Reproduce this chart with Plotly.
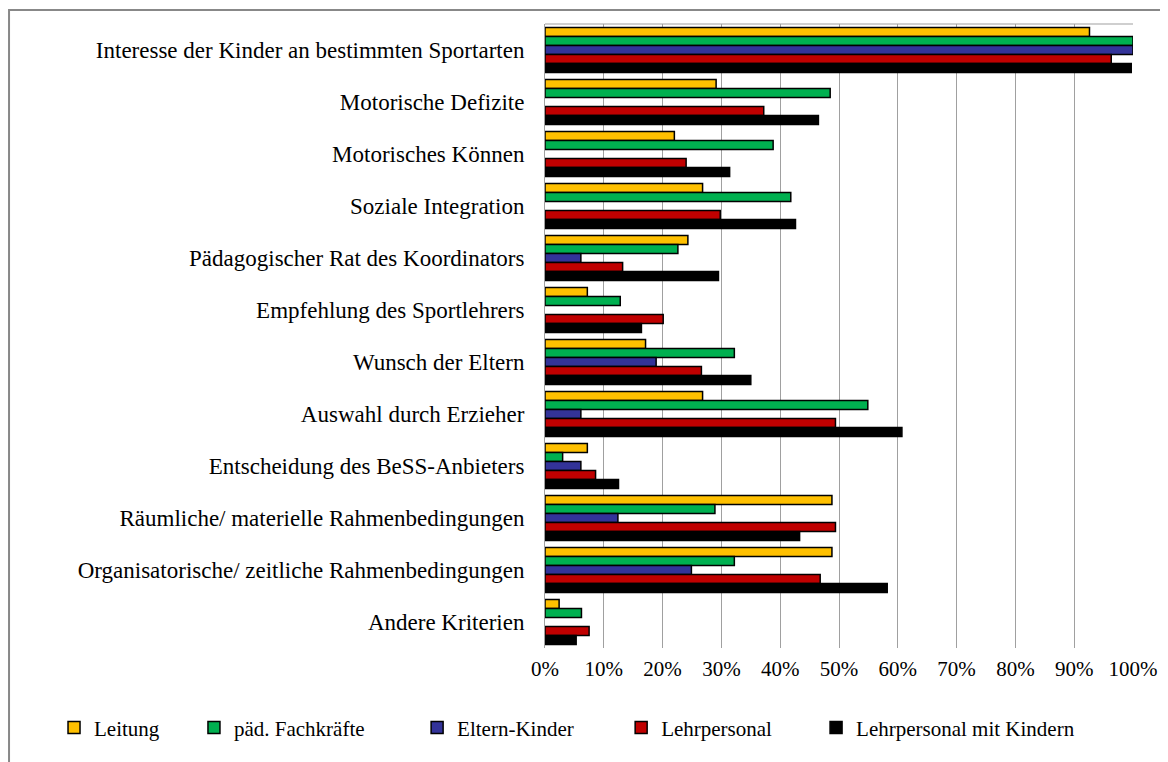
import plotly.graph_objects as go

categories = [
    "Interesse der Kinder an bestimmten Sportarten",
    "Motorische Defizite",
    "Motorisches Können",
    "Soziale Integration",
    "Pädagogischer Rat des Koordinators",
    "Empfehlung des Sportlehrers",
    "Wunsch der Eltern",
    "Auswahl durch Erzieher",
    "Entscheidung des BeSS-Anbieters",
    "Räumliche/ materielle Rahmenbedingungen",
    "Organisatorische/ zeitliche Rahmenbedingungen",
    "Andere Kriterien",
]

leitung = [92.6, 29.1, 22.0, 26.8, 24.3, 7.2, 17.1, 26.8, 7.2, 48.8, 48.8, 2.4]
paed_fachkraefte = [100.0, 48.5, 38.8, 41.8, 22.6, 12.8, 32.2, 54.9, 3.0, 28.9, 32.2, 6.2]
eltern_kinder = [100.0, None, None, None, 6.1, None, 18.9, 6.1, 6.1, 12.4, 24.9, None]
lehrpersonal = [96.3, 37.2, 24.0, 29.8, 13.2, 20.1, 26.6, 49.4, 8.6, 49.4, 46.8, 7.5]
lehrpersonal_kinder = [99.7, 46.5, 31.4, 42.6, 29.5, 16.4, 35.0, 60.7, 12.5, 43.3, 58.2, 5.3]

series_names = ["Leitung", "päd. Fachkräfte", "Eltern-Kinder", "Lehrpersonal", "Lehrpersonal mit Kindern"]
series_values = [leitung, paed_fachkraefte, eltern_kinder, lehrpersonal, lehrpersonal_kinder]
series_colors = ["#FFC000", "#00B050", "#333399", "#C00000", "#000000"]

x_tick_values = list(range(0, 101, 10))
x_tick_labels = ["0%", "10%", "20%", "30%", "40%", "50%", "60%", "70%", "80%", "90%", "100%"]

FONT = "Liberation Serif"

# one legend per series so that entries sit where the reference puts them
legend_ids = ["legend", "legend2", "legend3", "legend4", "legend5"]
legend_x = [-0.835, -0.597, -0.2175, 0.1295, 0.461]

fig = go.Figure()
for name, vals, col, lid in zip(series_names, series_values, series_colors, legend_ids):
    fig.add_trace(go.Bar(
        y=categories, x=vals, name=name, orientation="h", legend=lid,
        marker=dict(color=col, line=dict(color="#000000", width=1.5)),
    ))

legend_layout = {}
for lid, lx in zip(legend_ids, legend_x):
    legend_layout[lid] = dict(
        orientation="h", xref="paper", yref="paper",
        x=lx, y=-0.128, xanchor="left", yanchor="middle",
        font=dict(family=FONT, size=21, color="#000000"),
        itemwidth=30, bgcolor="rgba(0,0,0,0)",
    )

fig.update_layout(
    width=1160, height=754,
    paper_bgcolor="white", plot_bgcolor="white",
    barmode="group", bargap=0.13, bargroupgap=0,
    margin=dict(l=537, r=35, t=16, b=114, autoexpand=False),
    font=dict(family=FONT, color="#000000", size=20),
    showlegend=True,
    xaxis=dict(
        range=[0, 100], tickmode="array", tickvals=x_tick_values, ticktext=x_tick_labels,
        showgrid=True, gridcolor="#A0A0A0", gridwidth=1,
        zeroline=False, showline=False, ticks="",
        ticklabelstandoff=6, automargin=False,
        tickfont=dict(family=FONT, size=21, color="#000000"),
        fixedrange=True,
    ),
    yaxis=dict(
        autorange="reversed", showgrid=False, zeroline=False,
        showline=True, linecolor="#A0A0A0", linewidth=1, ticks="",
        ticklabelstandoff=15, automargin=False,
        tickfont=dict(family=FONT, size=23, color="#000000"),
        fixedrange=True,
    ),
    shapes=[
        dict(type="line", xref="paper", yref="paper", x0=0, x1=1, y0=1, y1=1,
             line=dict(color="#BFBFBF", width=1.5), layer="below"),
        dict(type="rect", xref="paper", yref="paper",
             x0=-0.9115, x1=1.2, y0=-0.3, y1=1.0224,
             line=dict(color="#888888", width=2)),
    ],
    **legend_layout,
)

fig.write_html("out.html")
